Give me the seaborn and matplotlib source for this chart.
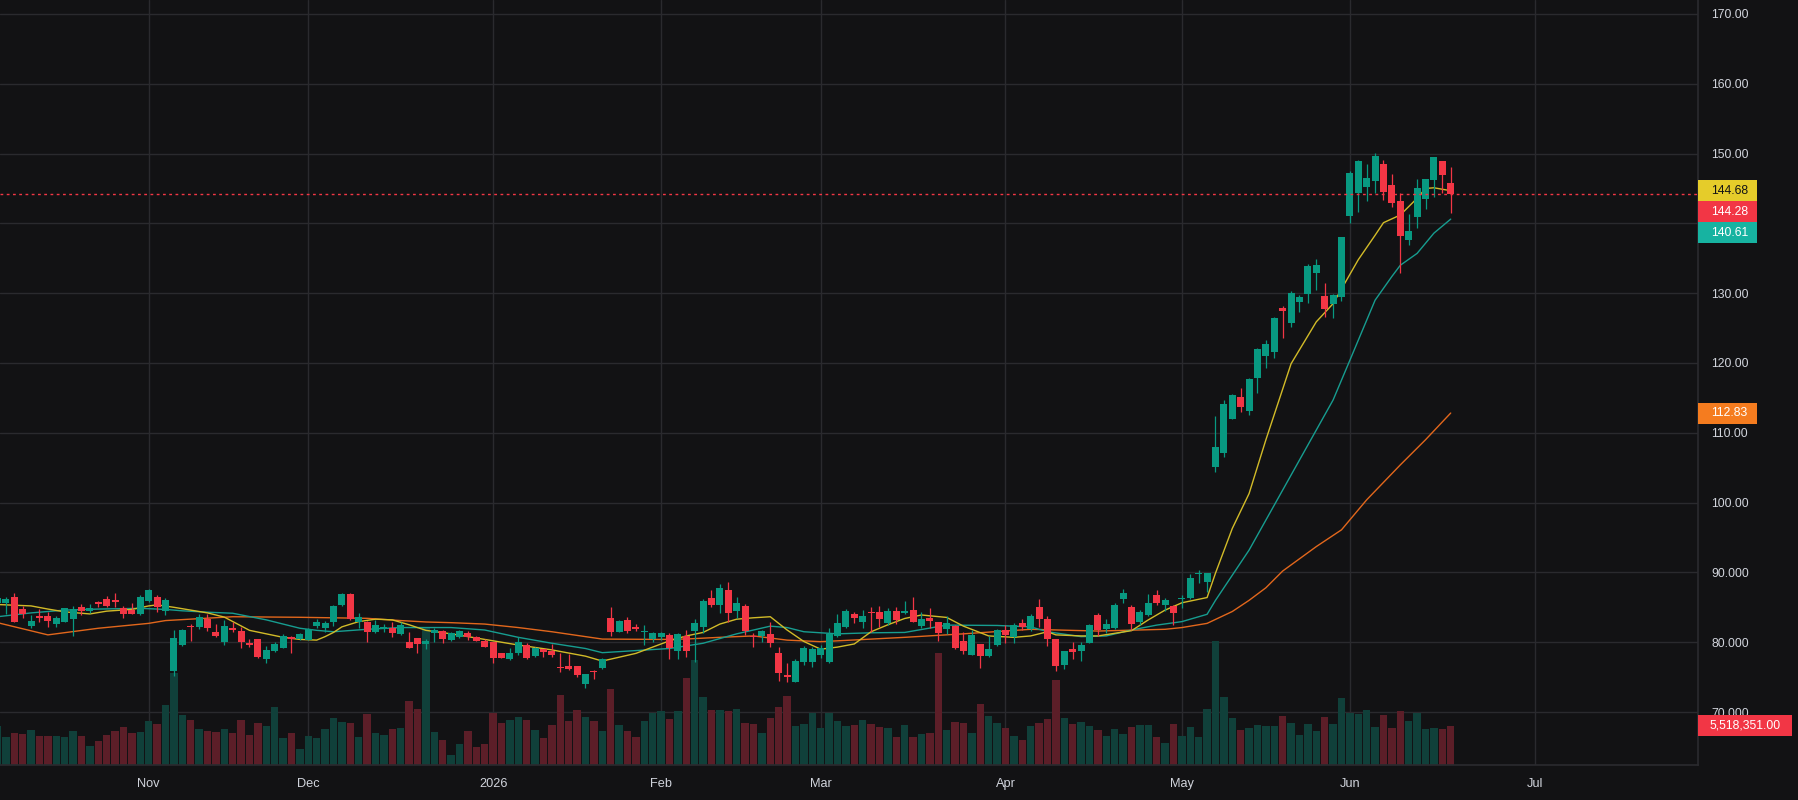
import numpy as np
import pandas as pd
import matplotlib
matplotlib.use("Agg")
import matplotlib.pyplot as plt
import matplotlib.transforms as mtransforms
from matplotlib.patches import Rectangle
import seaborn as sns

# daily OHLC, one entry per trading day (bar number = position in list)
opens = [85.6, 85.6, 86.47, 84.75, 82.37, 83.75, 83.75, 82.56, 82.94, 83.37,
         84.99, 84.52, 85.76, 86.14, 86.04, 84.85, 84.61, 83.99, 85.9, 86.47,
         84.47, 75.92, 79.6, 82.37, 82.17, 83.37, 81.46, 80.08, 82.04, 81.66,
         79.94, 80.46, 77.64, 78.79, 79.22, 80.8, 80.41, 80.32, 82.37, 82.04,
         82.95, 85.33, 86.91, 82.9, 82.95, 81.46, 81.85, 82.04, 81.18, 80.03,
         80.6, 79.7, 81.27, 81.61, 80.32, 80.8, 81.27, 80.7, 80.22, 80.03,
         78.41, 77.6, 78.41, 79.55, 78.03, 78.98, 78.79, 76.5, 76.6, 76.6,
         74.02, 75.93, 76.31, 83.42, 81.51, 83.18, 82.18, 81.46, 80.41, 80.7,
         81.04, 78.79, 80.89, 81.61, 82.23, 86.29, 85.33, 87.48, 84.47, 85.19,
         80.8, 80.89, 81.18, 78.41, 75.31, 74.35, 77.21, 77.21, 78.17, 77.21,
         80.89, 82.23, 84.04, 82.95, 84.28, 84.38, 82.71, 84.47, 84.23, 84.62,
         82.32, 83.52, 82.85, 81.9, 82.33, 80.18, 78.17, 79.75, 78.03, 79.6,
         81.75, 80.7, 82.8, 81.85, 85.09, 83.33, 80.46, 76.74, 79.03, 78.74,
         79.94, 83.9, 81.9, 81.99, 86.19, 85.0, 82.9, 83.9, 86.76, 85.33,
         85.19, 86.15, 86.38, 89.73, 88.68, 105.15, 107.16, 111.98, 115.08, 113.17,
         117.9, 121.05, 121.63, 127.83, 125.78, 128.79, 129.89, 132.94, 129.6, 128.45,
         129.5, 141.06, 144.31, 145.26, 146.12, 148.51, 145.5, 143.21, 137.62, 140.97,
         143.5, 146.22, 148.94, 145.74]
highs = [86.7, 86.52, 87.05, 85.18, 83.89, 84.7, 84.27, 83.7, 84.9, 85.18,
         85.52, 85.52, 85.95, 86.62, 87.05, 85.18, 85.61, 86.76, 87.62, 86.81,
         86.28, 81.74, 81.93, 82.6, 84.08, 84.04, 82.6, 83.18, 82.95, 82.23,
         80.41, 80.46, 79.46, 80.08, 81.18, 80.89, 81.37, 81.99, 83.38, 83.09,
         85.33, 87.1, 87.1, 84.23, 83.09, 83.18, 82.61, 82.9, 82.9, 81.46,
         80.6, 80.46, 81.99, 81.75, 81.51, 81.75, 81.66, 80.94, 80.41, 80.03,
         78.41, 79.13, 80.8, 79.84, 79.27, 79.08, 79.75, 78.41, 78.27, 76.6,
         75.45, 76.02, 77.74, 84.99, 83.18, 83.57, 82.61, 82.47, 81.51, 81.51,
         81.27, 81.37, 81.75, 83.28, 86.24, 87.48, 88.34, 88.58, 86.43, 85.48,
         81.27, 81.75, 82.95, 79.37, 76.98, 77.55, 79.46, 79.27, 79.6, 81.99,
         84.04, 84.71, 84.38, 84.61, 85.09, 85.24, 84.85, 85.0, 85.9, 86.53,
         84.38, 84.85, 82.85, 83.76, 82.47, 81.51, 81.75, 79.75, 80.89, 81.85,
         82.47, 82.71, 83.28, 84.0, 86.19, 83.76, 80.46, 78.74, 80.08, 80.08,
         82.57, 84.23, 83.28, 85.67, 87.58, 85.33, 84.62, 86.86, 87.48, 86.38,
         85.33, 86.76, 89.73, 90.35, 89.97, 112.41, 114.7, 115.56, 116.37, 117.8,
         122.1, 123.3, 126.64, 128.17, 130.32, 129.74, 134.19, 134.9, 131.42, 129.89,
         138.0, 147.51, 149.08, 148.51, 150.04, 149.08, 147.08, 144.31, 141.35, 146.31,
         146.31, 149.47, 148.94, 148.03]
lows = [85.3, 83.99, 82.9, 83.51, 82.08, 82.94, 82.13, 82.22, 82.94, 80.93,
        83.94, 84.23, 84.99, 85.09, 85.09, 83.51, 84.04, 83.89, 85.8, 84.32,
        83.89, 75.15, 79.45, 80.17, 81.93, 81.6, 80.79, 79.6, 81.51, 79.13,
        79.27, 77.69, 77.07, 78.65, 79.13, 78.5, 80.32, 80.32, 81.99, 81.46,
        82.32, 85.19, 83.18, 81.99, 80.08, 81.37, 81.51, 80.7, 81.04, 79.22,
        78.5, 78.98, 80.08, 79.94, 80.22, 80.56, 80.32, 80.13, 79.27, 77.07,
        77.79, 77.45, 78.17, 77.64, 77.93, 77.93, 77.93, 75.78, 76.02, 75.07,
        73.49, 74.68, 76.21, 80.89, 81.46, 81.27, 81.61, 79.6, 80.08, 80.32,
        77.6, 77.6, 77.84, 77.21, 81.37, 85.09, 84.14, 82.95, 83.52, 81.04,
        79.27, 80.08, 79.37, 74.49, 74.25, 74.25, 76.74, 76.5, 77.69, 77.07,
        80.7, 81.99, 82.8, 81.99, 81.51, 82.23, 82.47, 82.61, 84.0, 82.85,
        82.09, 81.99, 80.22, 81.18, 79.08, 78.31, 78.17, 76.36, 77.84, 79.46,
        79.94, 79.94, 81.75, 81.61, 82.23, 79.51, 75.93, 76.12, 77.6, 77.36,
        79.84, 80.89, 81.37, 81.85, 85.67, 81.75, 82.42, 83.81, 85.33, 84.47,
        82.47, 84.85, 86.19, 88.44, 87.24, 104.43, 106.58, 111.98, 113.03, 112.55,
        115.75, 119.33, 120.77, 123.63, 125.21, 127.36, 128.55, 130.46, 126.64, 126.5,
        128.88, 140.11, 141.68, 143.26, 144.31, 143.36, 142.4, 132.94, 136.91, 139.39,
        142.06, 143.83, 144.31, 141.54]
closes = [86.4, 86.18, 82.94, 84.08, 83.03, 83.51, 83.03, 83.46, 84.9, 84.75,
          84.47, 84.94, 85.52, 85.23, 85.76, 84.04, 84.04, 86.42, 87.47, 85.04,
          85.99, 80.6, 81.74, 82.22, 83.65, 82.08, 80.9, 82.32, 81.75, 80.08,
          79.6, 77.93, 78.89, 79.75, 80.89, 80.51, 81.18, 81.85, 82.95, 82.76,
          85.19, 86.91, 83.33, 83.57, 81.51, 82.42, 82.23, 81.37, 82.47, 79.22,
          79.7, 80.18, 81.75, 80.51, 81.27, 81.61, 80.8, 80.22, 79.36, 77.79,
          77.79, 78.41, 80.03, 77.79, 79.22, 78.55, 78.17, 76.36, 76.12, 75.31,
          75.45, 75.69, 77.6, 81.51, 83.04, 81.66, 81.94, 81.51, 81.27, 81.27,
          79.13, 81.18, 78.79, 82.71, 85.9, 85.33, 87.72, 84.23, 85.57, 81.66,
          80.7, 81.61, 79.94, 75.54, 75.07, 77.31, 79.13, 79.03, 79.13, 81.13,
          82.71, 84.47, 83.52, 83.76, 84.14, 83.33, 84.47, 83.18, 84.47, 82.95,
          83.28, 83.04, 81.37, 82.8, 79.22, 78.79, 81.04, 78.03, 79.03, 81.75,
          81.04, 82.47, 82.23, 83.76, 83.33, 80.46, 76.6, 78.74, 78.65, 79.6,
          82.47, 81.75, 82.61, 85.33, 87.1, 82.61, 84.38, 85.57, 85.57, 86.05,
          84.23, 86.29, 89.25, 89.87, 89.97, 107.92, 114.13, 115.42, 113.74, 117.71,
          121.96, 122.72, 126.4, 127.5, 129.98, 129.41, 133.9, 134.04, 127.74, 129.74,
          138.0, 147.17, 148.94, 146.46, 149.66, 144.55, 142.97, 138.24, 138.91, 145.02,
          146.31, 149.47, 146.94, 144.28]
# volume in millions of shares
volumes = [5.52, 3.96, 4.53, 4.39, 4.95, 4.1, 4.1, 4.1, 3.96, 4.81,
           4.1, 2.69, 3.4, 4.25, 4.81, 5.38, 4.53, 4.67, 6.23, 5.8,
           8.49, 12.97, 7.08, 6.37, 5.09, 4.81, 4.67, 5.09, 4.53, 6.37,
           4.25, 5.94, 5.52, 8.21, 3.82, 4.53, 2.26, 4.1, 3.82, 5.09,
           6.65, 6.08, 5.94, 3.96, 7.22, 4.53, 4.25, 5.09, 5.24, 9.06,
           7.92, 19.4, 4.67, 3.54, 1.42, 2.97, 4.81, 2.55, 2.97, 7.36,
           5.94, 6.37, 6.79, 6.37, 4.95, 3.82, 5.66, 9.91, 6.23, 7.78,
           6.79, 6.23, 4.81, 10.75, 5.66, 4.81, 3.96, 6.23, 7.36, 7.64,
           6.51, 7.64, 12.31, 14.86, 9.62, 7.78, 7.78, 7.64, 7.92, 5.94,
           5.8, 4.53, 6.65, 8.21, 9.76, 5.52, 5.8, 7.36, 5.24, 7.36,
           6.23, 5.52, 5.66, 6.37, 5.8, 5.38, 5.24, 3.96, 5.66, 3.96,
           4.39, 4.53, 15.85, 4.95, 6.08, 5.94, 4.53, 8.63, 6.93, 5.94,
           5.24, 4.1, 3.54, 5.52, 5.94, 6.51, 12.03, 6.65, 5.8, 6.08,
           5.52, 4.95, 4.1, 5.09, 4.39, 5.38, 5.66, 5.66, 3.96, 3.11,
           5.8, 4.1, 5.38, 3.96, 7.92, 17.55, 9.62, 6.65, 4.95, 5.24,
           5.66, 5.52, 5.52, 6.93, 5.94, 4.25, 5.8, 4.81, 6.79, 5.8,
           9.45, 7.41, 7.22, 7.78, 5.38, 7.08, 5.24, 7.64, 6.23, 7.36,
           5.09, 5.24, 5.09, 5.518351]

# moving averages, read at sample bars
fast_x = [0, 4, 6, 8, 11, 13, 16, 18, 19, 21, 23, 25, 27, 30, 32, 34, 36, 38, 39, 40,
          41, 43, 45, 47, 49, 51, 54, 58, 62, 66, 70, 72, 76, 80, 82, 84, 86, 88, 90, 92,
          94, 96, 98, 100, 102, 104, 106, 108, 110, 113, 115, 118, 121, 123, 125, 126, 129, 131, 135, 137,
          139, 141, 144, 145, 147, 149, 151, 154, 157, 159, 162, 164, 165, 167, 169, 170, 171, 173]
fast_y = [85.4, 85.2, 84.75, 84.35, 84.05, 84.45, 84.7, 85.2, 85.35, 85.0, 84.6, 84.2, 83.6, 81.7, 81.2, 80.7, 80.4, 80.3, 80.8, 81.4,
          82.2, 82.95, 83.3, 83.2, 82.5, 81.7, 81.2, 80.4, 79.6, 78.9, 78.0, 77.3, 78.4, 80.2, 80.9, 81.4, 82.6, 83.3, 83.5, 83.65,
          81.75, 80.1, 79.0, 79.3, 79.75, 81.5, 82.5, 83.4, 83.9, 83.55, 82.3, 80.9, 80.7, 80.9, 81.5, 81.05, 80.9, 80.9, 81.65, 83.2,
          84.6, 85.65, 86.4, 89.9, 96.3, 101.3, 109.0, 119.9, 125.9, 128.5, 134.8, 138.3, 140.1, 141.2, 143.6, 145.0, 145.1, 144.68]
mid_x = [0, 4, 8, 12, 17, 20, 22, 25, 28, 32, 36, 38, 40, 44, 48, 54, 58, 62, 66, 70,
         72, 76, 80, 84, 88, 92, 94, 96, 100, 104, 108, 113, 119, 123, 125, 129, 132, 135, 138, 141,
         144, 145, 149, 153, 157, 159, 161, 164, 166, 167, 169, 171, 173]
mid_y = [83.65, 84.2, 84.6, 84.75, 84.85, 84.7, 84.5, 84.3, 84.15, 83.2, 82.0, 81.7, 81.5, 81.85, 82.1, 82.1, 81.75, 80.7, 79.85, 79.1,
         78.5, 78.8, 79.1, 79.85, 81.2, 82.3, 82.1, 81.5, 81.2, 81.35, 81.4, 82.45, 82.4, 82.2, 81.5, 80.8, 80.9, 81.75, 82.45, 82.95,
         84.0, 86.0, 93.2, 101.8, 110.4, 114.7, 120.4, 129.0, 132.4, 134.0, 135.7, 138.6, 140.61]
slow_x = [0, 6, 12, 18, 20, 28, 36, 44, 48, 51, 54, 58, 62, 66, 70, 72, 79, 82, 86, 90,
          94, 98, 102, 108, 115, 123, 131, 139, 141, 144, 147, 149, 151, 153, 157, 160, 163, 167, 170, 173]
slow_y = [82.8, 81.05, 82.0, 82.7, 83.1, 83.65, 83.57, 83.42, 83.1, 82.9, 82.8, 82.6, 82.1, 81.5, 80.8, 80.45, 80.4, 80.46, 80.7, 80.9,
          80.3, 80.08, 80.32, 80.7, 81.2, 81.85, 81.6, 81.85, 82.1, 82.7, 84.4, 86.0, 87.8, 90.2, 93.7, 96.1, 100.4, 105.4, 109.0, 112.83]

month_pos = [18, 37, 59, 79, 98, 120, 141, 161, 183]
month_labels = ["Nov", "Dec", "2026", "Feb", "Mar", "Apr", "May", "Jun", "Jul"]
price_ticks = [70, 80, 90, 100, 110, 120, 130, 140, 150, 160, 170]
# 140.00 sits under the moving-average tags, so it is not shown
price_labels = ["70.000", "80.000", "90.000", "100.00", "110.00", "120.00",
                "130.00", "", "150.00", "160.00", "170.00"]

BG = "#121214"
GRID = "#2a2a2e"
UP, DOWN = "#089981", "#f23645"
VOL_UP, VOL_DOWN = "#10403a", "#5c1e28"
C_FAST, C_MID, C_SLOW = "#e5cc2a", "#17b3a1", "#f57c1f"
L_FAST, L_MID, L_SLOW = "#d2bb28", "#179d90", "#e2671c"
TXT = "#d1d4dc"

sns.set_theme(style="dark")
plt.rcParams["font.family"] = ["Liberation Sans", "DejaVu Sans"]

df = pd.DataFrame({"o": opens, "h": highs, "l": lows, "c": closes, "v": volumes})
df["bar"] = np.arange(len(df))
df["up"] = df["c"] >= df["o"]

fig = plt.figure(figsize=(17.98, 8.0), dpi=100, facecolor=BG)
ax2 = fig.add_axes([0, 35 / 800, 1698 / 1798, 765 / 800])   # volume pane (behind)
ax = fig.add_axes([0, 35 / 800, 1698 / 1798, 765 / 800], sharex=ax2)
ax2.set_facecolor(BG)
ax.patch.set_visible(False)

ax2.set_xlim(0.3, 202.44)
ax.set_ylim(62.41, 172.0)
ax2.set_ylim(0, 108.2)

# grid (drawn on back axes so volume sits above it)
ytrans = mtransforms.blended_transform_factory(ax2.transAxes, ax.transData)
for p in price_ticks:
    ax2.plot([0, 1], [p, p], transform=ytrans, color=GRID, lw=1, zorder=0)
for m in month_pos:
    ax2.axvline(m, color=GRID, lw=1, zorder=0)

# volume
vcol = np.where(df["up"], VOL_UP, VOL_DOWN)
ax2.bar(df["bar"], df["v"], width=0.88, color=vcol, linewidth=0, zorder=1)

# candles
ccol = np.where(df["up"], UP, DOWN)
ax.vlines(df["bar"], df["l"], df["h"], colors=ccol, lw=0.9, zorder=3)
body_lo = np.minimum(df["o"], df["c"])
body_h = np.maximum((df["c"] - df["o"]).abs(), 0.16)
ax.bar(df["bar"], body_h, bottom=body_lo, width=0.82, color=ccol, linewidth=0, zorder=4)

# moving averages
sns.lineplot(x=slow_x, y=slow_y, ax=ax, color=L_SLOW, lw=1.0, zorder=2, estimator=None, sort=False)
sns.lineplot(x=mid_x, y=mid_y, ax=ax, color=L_MID, lw=1.0, zorder=2, estimator=None, sort=False)
sns.lineplot(x=fast_x, y=fast_y, ax=ax, color=L_FAST, lw=1.0, zorder=2, estimator=None, sort=False)

# last price line
last = closes[-1]
ax.axhline(last, color=DOWN, lw=1, ls=(0, (2, 2.5)), zorder=5)

# axes styling
ax.set_xticks(month_pos)
ax.set_xticklabels(month_labels)
ax.yaxis.tick_right()
ax.set_yticks(price_ticks)
ax.set_yticklabels(price_labels)
ax.tick_params(axis="y", length=0, pad=9.4, labelsize=8.8, colors=TXT)
ax.tick_params(axis="x", length=0, pad=9.5, labelsize=9.2, colors=TXT)
ax2.tick_params(axis="both", length=0, labelbottom=False, labelleft=False)
ax.set_xlabel("")
ax.set_ylabel("")
ax2.set_yticks([])
for a in (ax, ax2):
    for s in a.spines.values():
        s.set_visible(False)
for side in ("right", "bottom"):
    ax.spines[side].set_visible(True)
    ax.spines[side].set_color(GRID)
ax.grid(False)
ax2.grid(False)

# price scale tags
trans = mtransforms.blended_transform_factory(ax.transAxes, ax.transData)
box_w = 59 / 1698
box_h = 3.0
slot_fast = fast_y[-1]
tags = [
    (slot_fast, f"{fast_y[-1]:.2f}", C_FAST, "#131316"),
    (slot_fast - box_h, f"{last:.2f}", DOWN, "white"),
    (slot_fast - 2 * box_h, f"{mid_y[-1]:.2f}", C_MID, "white"),
    (slow_y[-1], f"{slow_y[-1]:.2f}", C_SLOW, "white"),
]
for yv, txt, fc, tc in tags:
    ax.add_patch(Rectangle((1.0, yv - box_h / 2), box_w, box_h, transform=trans,
                           facecolor=fc, edgecolor="none", clip_on=False, zorder=6))
    ax.text(1.0 + 13 / 1698, yv, txt, transform=trans, color=tc, fontsize=8.8,
            va="center", ha="left", zorder=7, clip_on=False)

vtrans = mtransforms.blended_transform_factory(ax.transAxes, ax2.transData)
vbox_h = 2.97
ax.add_patch(Rectangle((1.0, volumes[-1] - vbox_h / 2), 94 / 1698, vbox_h, transform=vtrans,
                       facecolor=DOWN, edgecolor="none", clip_on=False, zorder=6))
ax.text(1.0 + 12 / 1698, volumes[-1], f"{volumes[-1] * 1e6:,.2f}", transform=vtrans,
        color="white", fontsize=8.8, va="center", ha="left", zorder=7, clip_on=False)

fig.savefig("out.png", dpi=100, facecolor=BG)
